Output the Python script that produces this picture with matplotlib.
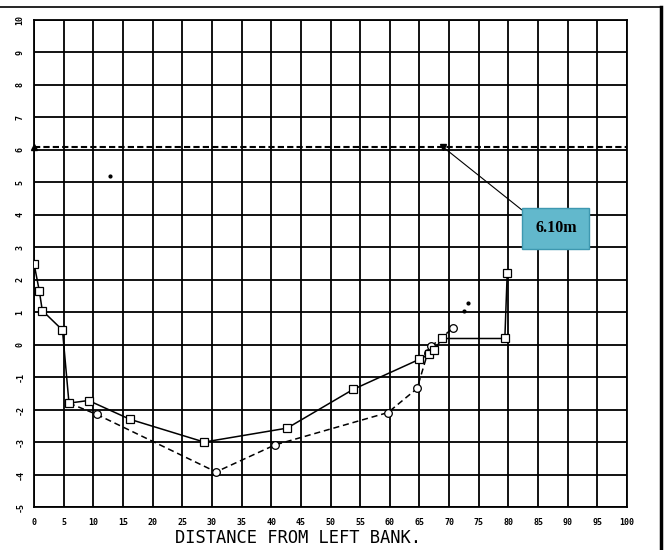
import numpy as np
import matplotlib
matplotlib.use("Agg")
import matplotlib.pyplot as plt
from matplotlib.lines import Line2D

plt.rcParams["font.family"] = "DejaVu Sans Mono"

# bed profile, first survey (squares, solid)
solid_x = [0, 0.9, 1.4, 4.8, 5.9, 9.2, 16.2, 28.7, 42.7, 53.8, 65.0, 66.6, 67.5, 68.8, 79.4, 79.8]
solid_y = [2.5, 1.65, 1.05, 0.45, -1.8, -1.72, -2.3, -3.0, -2.57, -1.38, -0.45, -0.3, -0.17, 0.19, 0.19, 2.2]

# bed profile, second survey (circles, dashed)
dash_x = [5.9, 10.6, 30.7, 40.6, 59.7, 64.6, 66.4, 67.0, 70.7]
dash_y = [-1.8, -2.15, -3.92, -3.09, -2.09, -1.35, -0.25, -0.05, 0.52]

# loose points
dots_x = [72.5, 73.2, 12.9]
dots_y = [1.04, 1.29, 5.19]

water_level = 6.10
water_mark_x = 68.9
label_xy = (88.0, 3.58)

x_ticks = list(range(0, 101, 5))
y_ticks = list(range(-5, 11))

fig = plt.figure(figsize=(6.67, 5.5), dpi=100)
ax = fig.add_axes([34 / 667, 1 - 507 / 550, (627 - 34) / 667, (507 - 20) / 550])

ax.set_xlim(0, 100)
ax.set_ylim(-5, 10)
ax.set_xticks(x_ticks)
ax.set_yticks(y_ticks)
ax.set_xticklabels([str(v) for v in x_ticks], fontsize=6, fontweight="bold")
ax.set_yticklabels([str(v) for v in y_ticks], fontsize=6, fontweight="bold",
                   rotation=90, va="center")
ax.tick_params(length=0)
ax.tick_params(axis="x", pad=8)
ax.tick_params(axis="y", pad=7)
ax.grid(True, color="black", lw=1.3)
for s in ax.spines.values():
    s.set_linewidth(1.3)
ax.set_axisbelow(True)

ax.plot(solid_x, solid_y, "-", color="black", lw=1.1, marker="s", ms=5.5,
        mfc="white", mec="black", mew=0.9, zorder=4)
ax.plot(dash_x, dash_y, "--", color="black", lw=1.1, dashes=(4, 2.5), zorder=3)
ax.plot(dash_x[1:], dash_y[1:], "o", ms=5.5, mfc="white", mec="black", mew=0.9, zorder=3)
ax.plot(dots_x, dots_y, ".", color="black", ms=4, zorder=3)

# design flood level
ax.axhline(water_level, color="black", lw=1.5, dashes=(3, 1.5), zorder=5)
ax.plot([0], [water_level], "^", color="black", ms=5, clip_on=False, zorder=6)
ax.plot([water_mark_x], [water_level], "v", color="black", ms=5, zorder=6)
ax.annotate("6.10m", xy=(water_mark_x, water_level), xytext=label_xy,
            ha="center", va="center", fontsize=11.5, fontweight="bold",
            family="Liberation Serif",
            bbox=dict(boxstyle="square,pad=0.8", fc="#62b8cc", ec="#3e98b0", lw=1),
            arrowprops=dict(arrowstyle="-", color="black", lw=0.8, relpos=(0, 1),
                            shrinkA=0, shrinkB=0),
            zorder=7)

fig.text(298 / 667, 1 - 538 / 550, "DISTANCE FROM LEFT BANK.", ha="center",
         va="center", fontsize=12.3)

# page frame
fig.add_artist(Line2D([0, 661 / 667], [1 - 7 / 550, 1 - 7 / 550], color="black", lw=1.2))
fig.add_artist(Line2D([661 / 667, 661 / 667], [0, 1 - 7 / 550], color="black", lw=2.5))

fig.savefig("out.png", dpi=100)
